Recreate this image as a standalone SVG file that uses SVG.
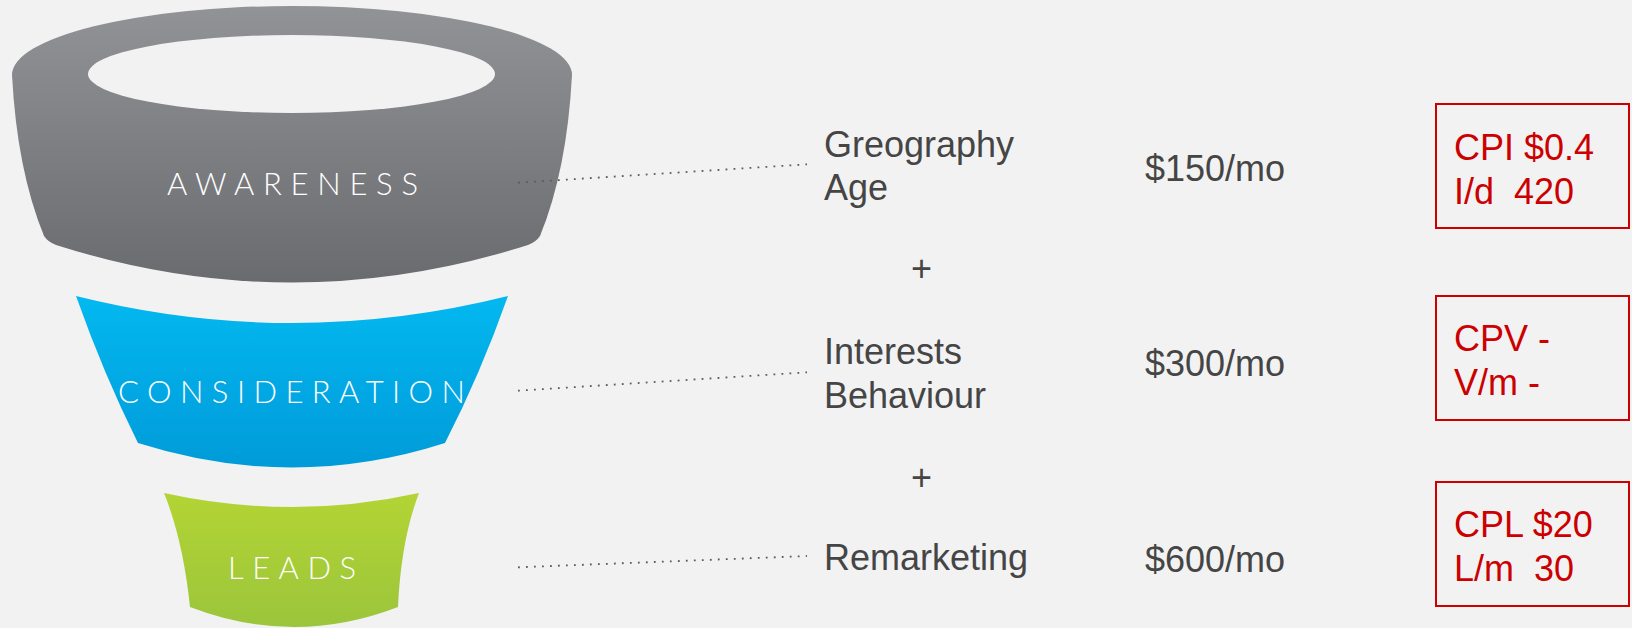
<svg xmlns="http://www.w3.org/2000/svg" width="1632" height="628" viewBox="0 0 1632 628">
<defs>
<linearGradient id="gGray" x1="0" y1="0" x2="0" y2="1">
<stop offset="0" stop-color="#929397"/>
<stop offset="1" stop-color="#6a6b6f"/>
</linearGradient>
<linearGradient id="gBlue" x1="0" y1="0" x2="0" y2="1">
<stop offset="0" stop-color="#03b8f0"/>
<stop offset="1" stop-color="#009bd9"/>
</linearGradient>
<linearGradient id="gGreen" x1="0" y1="0" x2="0" y2="1">
<stop offset="0" stop-color="#b3d434"/>
<stop offset="1" stop-color="#9bc53b"/>
</linearGradient>
</defs>
<style>
.stage{fill:#ffffff;font-family:Lato,"Open Sans","Liberation Sans",sans-serif;font-weight:300;font-size:31px}
.lbl{fill:#454545;font-family:"Liberation Sans",Arial,sans-serif;font-size:36px}
.red{fill:#cc0000;font-family:"Liberation Sans",Arial,sans-serif;font-size:36px;white-space:pre}
.box{fill:none;stroke:#cc0000;stroke-width:2}
.dot{fill:none;stroke:#5a5a5a;stroke-width:1.8;stroke-dasharray:1.8 6.2}
</style>
<rect width="1632" height="628" fill="#f2f2f2"/>

<g id="awareness">
<path d="M12,75 A280,69 0 0 1 572,75 Q567,170 540,236 Q536,242 528,245 Q292,320 56,245 Q48,242 44,236 Q17,170 12,75 Z" fill="url(#gGray)"/>
<ellipse cx="291.5" cy="74" rx="203.5" ry="39" fill="#f2f2f2"/>
<text class="stage" x="167" y="195" textLength="251" lengthAdjust="spacing">AWARENESS</text>
</g>

<g id="consideration">
<path d="M76,296 Q292,350 508,296 Q480,375 445,443 Q292,492 138,443 Q104,375 76,296 Z" fill="url(#gBlue)"/>
<text class="stage" x="118" y="403" textLength="347" lengthAdjust="spacing">CONSIDERATION</text>
</g>

<g id="leads">
<path d="M164,493 Q292,521 419,493 Q401,540 398,607 Q294,647 190,607 Q183,540 164,493 Z" fill="url(#gGreen)"/>
<text class="stage" x="228" y="579" textLength="128" lengthAdjust="spacing">LEADS</text>
</g>

<g id="connectors">
<line class="dot" x1="518" y1="182.7" x2="807" y2="164.3"/>
<line class="dot" x1="518" y1="390.7" x2="807" y2="372.3"/>
<line class="dot" x1="518" y1="567.3" x2="807" y2="556"/>
</g>

<g id="targeting">
<text class="lbl" x="824" y="157">Greography</text>
<text class="lbl" x="824" y="200">Age</text>
<text class="lbl" x="911" y="281">+</text>
<text class="lbl" x="824" y="364">Interests</text>
<text class="lbl" x="824" y="408">Behaviour</text>
<text class="lbl" x="911" y="490">+</text>
<text class="lbl" x="824" y="570">Remarketing</text>
</g>

<g id="budgets">
<text class="lbl" x="1145" y="181">$150/mo</text>
<text class="lbl" x="1145" y="376">$300/mo</text>
<text class="lbl" x="1145" y="572">$600/mo</text>
</g>

<g id="kpi-awareness">
<rect class="box" x="1436" y="104" width="193" height="124"/>
<text class="red" x="1454" y="160" xml:space="preserve">CPI $0.4</text>
<text class="red" x="1454" y="204" xml:space="preserve">I/d  420</text>
</g>
<g id="kpi-consideration">
<rect class="box" x="1436" y="296" width="193" height="124"/>
<text class="red" x="1454" y="351" xml:space="preserve">CPV -</text>
<text class="red" x="1454" y="395" xml:space="preserve">V/m -</text>
</g>
<g id="kpi-leads">
<rect class="box" x="1436" y="482" width="193" height="124"/>
<text class="red" x="1454" y="537" xml:space="preserve">CPL $20</text>
<text class="red" x="1454" y="581" xml:space="preserve">L/m  30</text>
</g>
</svg>
